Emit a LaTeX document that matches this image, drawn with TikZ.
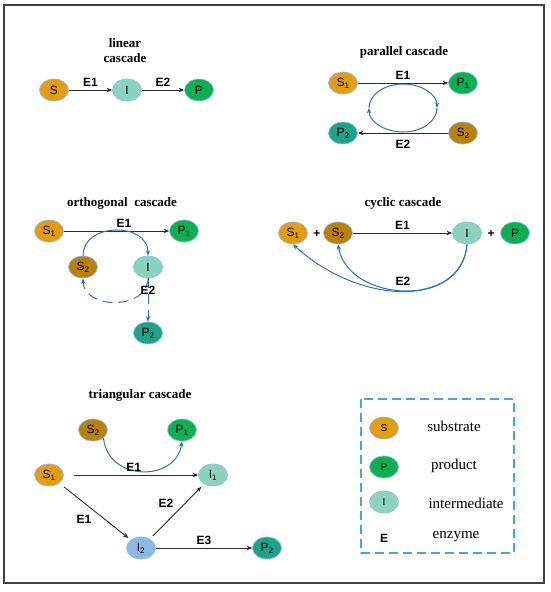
\documentclass[tikz,border=0pt]{standalone}
\usepackage{fontspec}
\setmainfont{Liberation Serif}
\setsansfont{Liberation Sans}
\usetikzlibrary{arrows.meta,shapes,positioning}
\definecolor{substr}{HTML}{E49C12}
\definecolor{substrb}{HTML}{B8800C}
\definecolor{prod}{HTML}{10AE52}
\definecolor{prodb}{HTML}{21A08A}
\definecolor{inter}{HTML}{8CD2BF}
\definecolor{interb}{HTML}{8DB7E4}
\definecolor{rim}{HTML}{8EC3EA}
\definecolor{arcblue}{HTML}{2E73B2}
\definecolor{darkline}{HTML}{2B2B2B}
\definecolor{boxblue}{HTML}{4AA3DF}

\begin{document}
\begin{tikzpicture}[x=1pt,y=-1pt,>={Stealth[length=5.5pt,width=4.5pt]},
  mol/.style={ellipse,draw=rim,line width=0.7pt,minimum width=29pt,minimum height=22pt,inner sep=0pt,font=\sffamily\fontsize{12}{14}\selectfont},
  ttl/.style={font=\bfseries\fontsize{13}{15}\selectfont,align=center},
  enz/.style={font=\sffamily\bfseries\fontsize{12}{14}\selectfont},
  blk/.style={->,line width=0.9pt,draw=darkline},
  blu/.style={->,line width=1pt,draw=arcblue},
  legtxt/.style={font=\fontsize{15}{17}\selectfont}]
\useasboundingbox (0,0) rectangle (550,592);
% outer frame
\draw[line width=1.4pt,draw=black!75] (4,5) rectangle (544,583);

% linear cascade
\node[ttl] (linT) at (125,51) {linear\\cascade};
\node[mol,fill=substr] (linS) at (54,90) {S};
\node[mol,fill=inter] (linI) at (127,90) {I};
\node[mol,fill=prod] (linP) at (199,90) {P};
\draw[blk] (linS) -- (linI) node[midway,above,enz] {E1};
\draw[blk] (linI) -- (linP) node[midway,above,enz] {E2};

% parallel cascade
\node[ttl] (parT) at (404,52) {parallel cascade};
\node[mol,fill=substr] (parS1) at (343,83) {S\textsubscript{1}};
\node[mol,fill=prod] (parP1) at (463,83) {P\textsubscript{1}};
\node[mol,fill=prodb] (parP2) at (343,133) {P\textsubscript{2}};
\node[mol,fill=substrb] (parS2) at (463,133) {S\textsubscript{2}};
\draw[blk] (parS1) -- (parP1) node[midway,above,enz] {E1};
\draw[blk] (parS2) -- (parP2) node[midway,below=3pt,enz] {E2};
\coordinate (parL) at (369,108);
\coordinate (parR) at (437,108);
\draw[blu] (parL) arc[start angle=180,end angle=0,x radius=34pt,y radius=24pt];
\draw[blu] (parR) arc[start angle=0,end angle=-180,x radius=34pt,y radius=24pt];

% orthogonal cascade
\node[ttl] (ortT) at (122,203) {orthogonal~ cascade};
\node[mol,fill=substr] (ortS1) at (49,231) {S\textsubscript{1}};
\node[mol,fill=prod] (ortP1) at (184,231) {P\textsubscript{1}};
\node[mol,fill=substrb] (ortS2) at (83,267) {S\textsubscript{2}};
\node[mol,fill=inter] (ortI) at (148,267) {I};
\node[mol,fill=prodb] (ortP2) at (148,333) {P\textsubscript{2}};
\draw[blk] (ortS1) -- (ortP1) node[pos=0.57,above,enz] {E1};
\draw[blu] (ortS2.north) .. controls (83,222) and (148,222) .. (ortI.north);
\draw[blu,dash pattern=on 10pt off 6pt] (ortI.south) .. controls (148,310) and (84,310) .. (ortS2.south);
\draw[blu,dash pattern=on 10pt off 6pt] (ortI) -- (ortP2) node[pos=0.27,enz] {E2};

% cyclic cascade
\node[ttl] (cycT) at (403,203) {cyclic cascade};
\node[mol,fill=substr] (cycS1) at (293,233) {S\textsubscript{1}};
\node[enz] (cycPl1) at (317,234) {+};
\node[mol,fill=substrb] (cycS2) at (338,233) {S\textsubscript{2}};
\node[mol,fill=inter] (cycI) at (467,233) {I};
\node[enz] (cycPl2) at (491,234) {+};
\node[mol,fill=prod] (cycP) at (515,233) {P};
\draw[blk] (cycS2) -- (cycI) node[midway,above,enz] {E1};
\draw[blu] (cycI.south) .. controls (462,308) and (360,306) .. (cycS1.south);
\draw[blu] (cycI.south) .. controls (462,310) and (348,302) .. (cycS2.south);
\node[enz] (cycE2) at (403,281) {E2};

% triangular cascade
\node[ttl] (triT) at (140,395) {triangular cascade};
\node[mol,fill=substrb] (triS2) at (93,430) {S\textsubscript{2}};
\node[mol,fill=prod] (triP1) at (182,430) {P\textsubscript{1}};
\node[mol,fill=substr] (triS1) at (49,475) {S\textsubscript{1}};
\node[mol,fill=inter] (triI1) at (213,475) {I\textsubscript{1}};
\node[mol,fill=interb] (triI2) at (141,548) {I\textsubscript{2}};
\node[mol,fill=prodb] (triP2) at (267,548) {P\textsubscript{2}};
\draw[blu] (triS2.south east) .. controls (108,482) and (176,482) .. (triP1.south);
\draw[blk,shorten <=10pt] (triS1) -- (triI1) node[pos=0.52,above,enz] {E1};
\draw[blk,shorten <=6pt,shorten >=3pt] (triS1) -- (triI2) node[midway,below left,enz] {E1};
\draw[blk,shorten <=4pt,shorten >=4pt] (triI2) -- (triI1) node[midway,above left,enz] {E2};
\draw[blk] (triI2) -- (triP2) node[midway,above,enz] {E3};

% legend
\draw[boxblue,line width=1.2pt,dash pattern=on 9pt off 5pt] (361,399) rectangle (514,553);
\node[mol,fill=substr,font=\sffamily\fontsize{10}{12}\selectfont] (legS) at (384,428) {S};
\node[mol,fill=prod,font=\sffamily\fontsize{10}{12}\selectfont] (legP) at (384,467) {P};
\node[mol,fill=inter,font=\sffamily\fontsize{10}{12}\selectfont] (legI) at (384,502) {I};
\node[enz] (legE) at (384,538) {E};
\node[legtxt] (legSt) at (454,426) {substrate};
\node[legtxt] (legPt) at (454,466) {product};
\node[legtxt] (legIt) at (466,503) {intermediate};
\node[legtxt] (legEt) at (456,537) {enzyme};
\end{tikzpicture}
\end{document}
